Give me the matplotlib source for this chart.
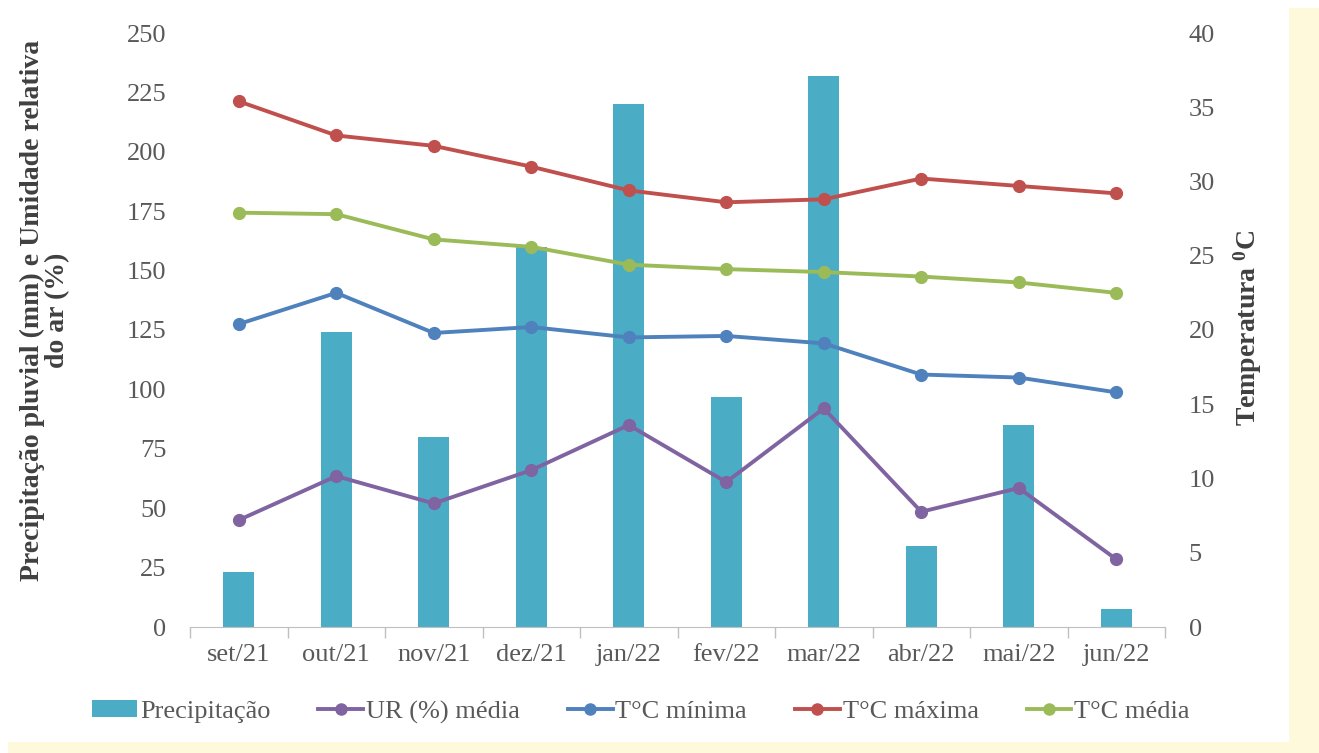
import matplotlib.pyplot as plt
import numpy as np
from matplotlib.lines import Line2D
from matplotlib.patches import Patch, Rectangle

plt.rcParams['font.family'] = ['Liberation Serif', 'DejaVu Serif']

meses = ['set/21', 'out/21', 'nov/21', 'dez/21', 'jan/22',
         'fev/22', 'mar/22', 'abr/22', 'mai/22', 'jun/22']
precipitacao = [23, 124, 80, 160, 220, 97, 232, 34, 85, 7.5]
ur_media = [45, 63.5, 52, 66, 85, 61, 92, 48.5, 58.5, 28.5]
t_minima = [20.4, 22.5, 19.8, 20.2, 19.5, 19.6, 19.1, 17.0, 16.8, 15.8]
t_maxima = [35.4, 33.1, 32.4, 31.0, 29.4, 28.6, 28.8, 30.2, 29.7, 29.2]
t_media = [27.9, 27.8, 26.1, 25.6, 24.4, 24.1, 23.9, 23.6, 23.2, 22.5]

c_bar = '#4BACC6'
c_ur = '#8064A2'
c_min = '#4F81BD'
c_max = '#C0504D'
c_med = '#9BBB59'
c_tick = '#595959'
fs = 19

W, H = 1319, 753
fig = plt.figure(figsize=(W / 100, H / 100), dpi=100)
fig.patch.set_facecolor('white')
# light yellow page border on the right and bottom
fig.patches.append(Rectangle((8 / W, 0), 1, 1 - 8 / H, transform=fig.transFigure,
                             facecolor='#FFF9DB', edgecolor='none', zorder=-2))
fig.patches.append(Rectangle((0, 1 - 742 / H), 1289 / W, 742 / H, transform=fig.transFigure,
                             facecolor='white', edgecolor='none', zorder=-1))

ax = fig.add_axes([190 / W, 1 - 627 / H, (1165 - 190) / W, (627 - 33) / H])
ax.patch.set_alpha(0)
ax2 = ax.twinx()

x = np.arange(len(meses))
ax.bar(x, precipitacao, width=0.32, color=c_bar, zorder=1)
ax.plot(x, ur_media, color=c_ur, lw=2.8, marker='o', ms=8.5, zorder=3)

for vals, c in ((t_minima, c_min), (t_maxima, c_max), (t_media, c_med)):
    ax2.plot(x, vals, color=c, lw=2.8, marker='o', ms=8.5)

ax.set_xlim(-0.5, len(meses) - 0.5)
ax.set_ylim(0, 250)
ax.set_yticks(np.arange(0, 251, 25))
ax2.set_ylim(0, 40)
ax2.set_yticks(np.arange(0, 41, 5))

ax.set_xticks(x)
ax.set_xticklabels(meses)
ax.set_xticks(np.arange(-0.5, len(meses), 1), minor=True)
ax.tick_params(axis='x', which='major', length=0, pad=12, labelsize=fs, labelcolor=c_tick)
ax.tick_params(axis='x', which='minor', length=8, color='#BFBFBF', width=1)
ax.tick_params(axis='y', length=0, pad=17, labelsize=fs, labelcolor=c_tick)
ax2.tick_params(axis='y', length=0, pad=17, labelsize=fs, labelcolor=c_tick)

for a in (ax, ax2):
    for s in ('top', 'left', 'right', 'bottom'):
        a.spines[s].set_visible(False)
ax.spines['bottom'].set_visible(True)
ax.spines['bottom'].set_color('#BFBFBF')

ax.set_ylabel('Precipitação pluvial (mm) e Umidade relativa\ndo ar (%)',
              fontsize=20, fontweight='bold', color='#404040', linespacing=1.0)
ax.yaxis.set_label_coords(-0.123, 0.533)
ax2.set_ylabel(r'Temperatura $\mathregular{^0}$C', fontsize=20, fontweight='bold',
               color='#404040')
ax2.yaxis.set_label_coords(1.0687, 0.503)

handles = [
    Patch(facecolor=c_bar, edgecolor='none'),
    Line2D([], [], color=c_ur, lw=2.8, marker='o', ms=8),
    Line2D([], [], color=c_min, lw=2.8, marker='o', ms=8),
    Line2D([], [], color=c_max, lw=2.8, marker='o', ms=8),
    Line2D([], [], color=c_med, lw=2.8, marker='o', ms=8),
]
labels = ['Precipitação', 'UR (%) média', 'T°C mínima', 'T°C máxima', 'T°C média']
fig.legend(handles, labels, loc='center', bbox_to_anchor=(641 / W, 1 - 712 / H),
           ncol=5, frameon=False, fontsize=fs, handlelength=1.7, handleheight=0.6,
           handletextpad=0.1, columnspacing=1.82, labelcolor=c_tick)

fig.savefig('out.png', dpi=100)
